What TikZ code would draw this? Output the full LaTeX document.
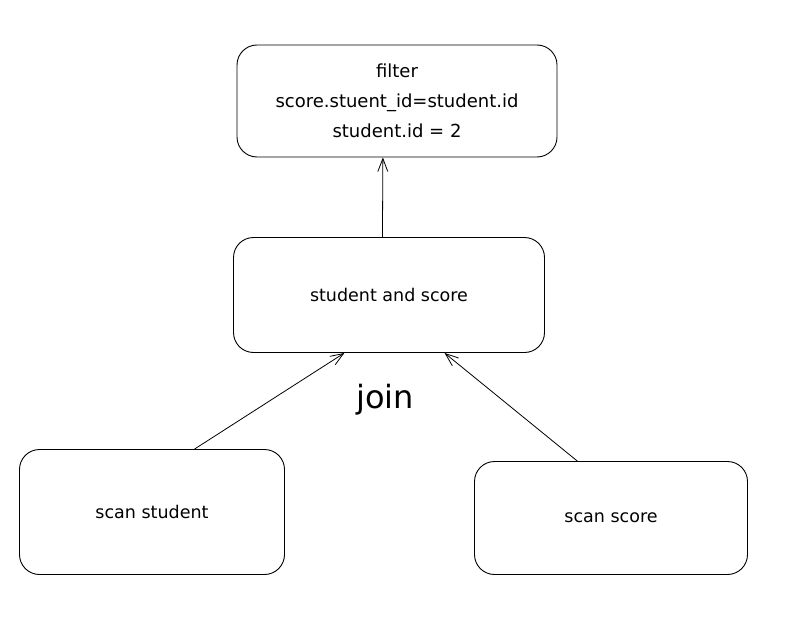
\documentclass[tikz,border=0pt]{standalone}
\usepackage{fontspec}
\setmainfont{DejaVu Sans}
\usetikzlibrary{arrows.meta,calc}

\begin{document}
\begin{tikzpicture}[x=1pt,y=-1pt,
    box/.style={draw, rectangle, rounded corners=20pt, line width=0.9pt, inner sep=0pt},
    arr/.style={-{Straight Barb[length=13pt,width=10pt]}, line width=0.8pt}]
\useasboundingbox (0,0) rectangle (798,626);

\node[box, minimum width=320pt, minimum height=112pt, align=center, font=\fontsize{18}{30}\selectfont] (flt) at (397,101) {filter\\score.stuent\_id=student.id\\student.id = 2};

\node[box, minimum width=311pt, minimum height=115pt, font=\fontsize{17.5}{19}\selectfont] (sas) at (389,295) {student and score};

\node[box, minimum width=265pt, minimum height=125pt, font=\fontsize{17.5}{19}\selectfont] (sst) at (152,512) {scan student};
\node[box, minimum width=273pt, minimum height=113pt, font=\fontsize{17.5}{19}\selectfont] (ssc) at (611,518) {scan score};

\node[font=\fontsize{32}{34}\selectfont] (join) at (385,400) {join};

\path
    ($(sas.north west)!0.479!(sas.north east)$) edge[arr] ($(flt.south west)!0.456!(flt.south east)$)
    ($(sst.north west)!0.66!(sst.north east)$) edge[arr] ($(sas.south west)!0.357!(sas.south east)$)
    ($(ssc.north west)!0.377!(ssc.north east)$) edge[arr] ($(sas.south west)!0.678!(sas.south east)$);
\end{tikzpicture}
\end{document}
